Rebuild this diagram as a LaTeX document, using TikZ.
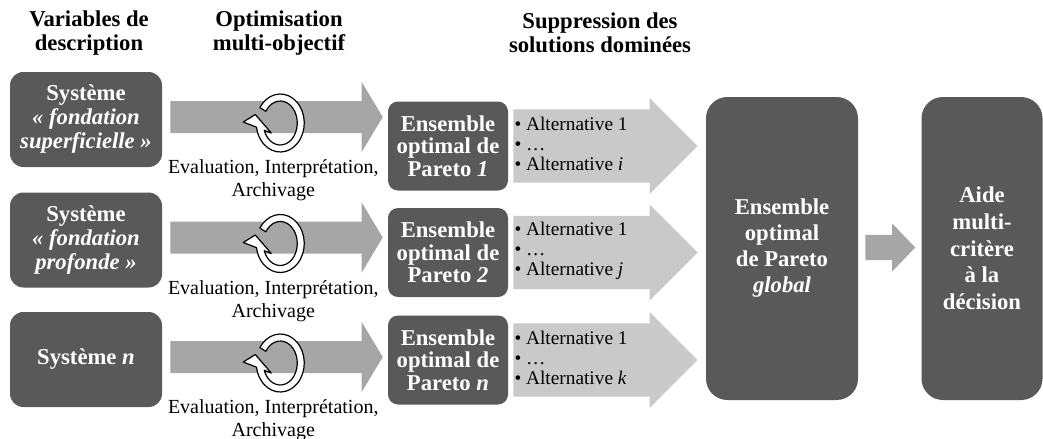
\documentclass[tikz,border=0pt]{standalone}
\usepackage{fontspec}
\setmainfont{Liberation Serif}
\usetikzlibrary{calc}

\definecolor{boxgray}{HTML}{595959}
\definecolor{arrowgray}{HTML}{A6A6A6}
\definecolor{listgray}{HTML}{C9C9C9}

% horizontal block arrow: style, start, end, shaft half width, head half width, head length
\newcommand{\fatarrow}[6]{%
  \fill[#1] let \p1=#2, \p2=#3 in
    (\x1,\y1+#4) -- (\x2-#6,\y1+#4) -- (\x2-#6,\y1+#5) -- (\x2,\y1)
    -- (\x2-#6,\y1-#5) -- (\x2-#6,\y1-#4) -- (\x1,\y1-#4) -- cycle;}

% circular arrow icon
\newcommand{\loopicon}[1]{%
  \filldraw[ringarrow, shift={#1}]
    ({24*cos(148)},{29*sin(148)}) arc[start angle=148, end angle=-171.7, x radius=18pt, y radius=21.75pt]
    -- (-37,1) -- (-25,8.5) -- (-9,-10) -- ({17*cos(-160.8)},{22*sin(-160.8)})
    arc[start angle=-160.8, end angle=148, x radius=12.75pt, y radius=16.5pt] -- cycle;}

\begin{document}
\begin{tikzpicture}[x=0.75pt, y=0.75pt, line join=round,
    sysbox/.style={fill=boxgray, rounded corners=10pt, text=white, align=center, inner sep=0pt,
      font=\bfseries\fontsize{17}{18}\selectfont, minimum width=114pt, minimum height=71.25pt},
    parbox/.style={sysbox, rounded corners=7.5pt, font=\bfseries\fontsize{17}{17}\selectfont,
      minimum width=90pt, minimum height=66.75pt},
    bigbox/.style={sysbox, rounded corners=16pt, font=\bfseries\fontsize{17}{19.5}\selectfont,
      minimum height=227.25pt},
    header/.style={align=center, font=\bfseries\fontsize{17}{18}\selectfont},
    steplabel/.style={align=center, font=\fontsize{15}{17}\selectfont},
    altlist/.style={align=left, anchor=west, inner sep=0pt, font=\fontsize{14.5}{15}\selectfont},
    ringarrow/.style={fill=white, draw=black, line width=0.9pt}]
  \useasboundingbox (0,0) rectangle (1043,-439);

  % column titles
  \node[header] (h1) at (89,-33) {Variables de\\description};
  \node[header] (h2) at (279,-33) {Optimisation\\multi-objectif};
  \node[header] (h3) at (600,-33) {Suppression des\\solutions dominées};

  % systems
  \node[sysbox] (sys1) at (86,-119.5) {Système\\\textit{«~fondation}\\\textit{superficielle~»}};
  \node[sysbox] (sys2) at (86,-240) {Système\\\textit{«~fondation}\\\textit{profonde~»}};
  \node[sysbox] (sys3) at (86,-359.5) {Système \textit{n}};

  % Pareto sets
  \node[parbox] (par1) at (448,-146) {Ensemble\\optimal de\\Pareto \textit{1}};
  \node[parbox] (par2) at (448,-252.5) {Ensemble\\optimal de\\Pareto \textit{2}};
  \node[parbox] (par3) at (448,-360) {Ensemble\\optimal de\\Pareto \textit{n}};

  \node[bigbox] (glob) at (782,-248.5) {Ensemble\\optimal\\de Pareto\\\textit{global}};
  \node[bigbox, minimum width=90.75pt, font=\bfseries\fontsize{17}{20}\selectfont] (aide) at (982,-248.5)
    {Aide\\multi-\\critère\\à la\\décision};

  % optimisation arrows
  \foreach \i in {1,2,3} {
    \coordinate (s\i) at ($(sys\i.east)+(8,2.5)$);
    \coordinate (t\i) at ($(par\i.west)+(-5,0)$);
    \fatarrow{arrowgray}{(s\i)}{(t\i)}{12pt}{26.25pt}{15.75pt}
    \loopicon{($(s\i)+(110,-6)$)}
    \node[steplabel] (lab\i) at ($(s\i)+(103,-63.5)$) {Evaluation, Interprétation,\\Archivage};
  }

  % dominated solutions removed
  \foreach \i/\k in {1/i,2/j,3/k} {
    \fatarrow{listgray}{($(par\i.east)+(5,0)$)}{($(glob.west)+(-8,0)$)}{27.4pt}{36pt}{36pt}
    \node[altlist] (alt\i) at ($(par\i.east)+(6,2)$)
      {• Alternative 1\\• …\\• Alternative \textit{\k}};
  }

  \fatarrow{arrowgray}{($(glob.east)+(7,1)$)}{($(aide.west)+(-6,0)$)}{9.4pt}{18pt}{17.25pt}
\end{tikzpicture}
\end{document}
